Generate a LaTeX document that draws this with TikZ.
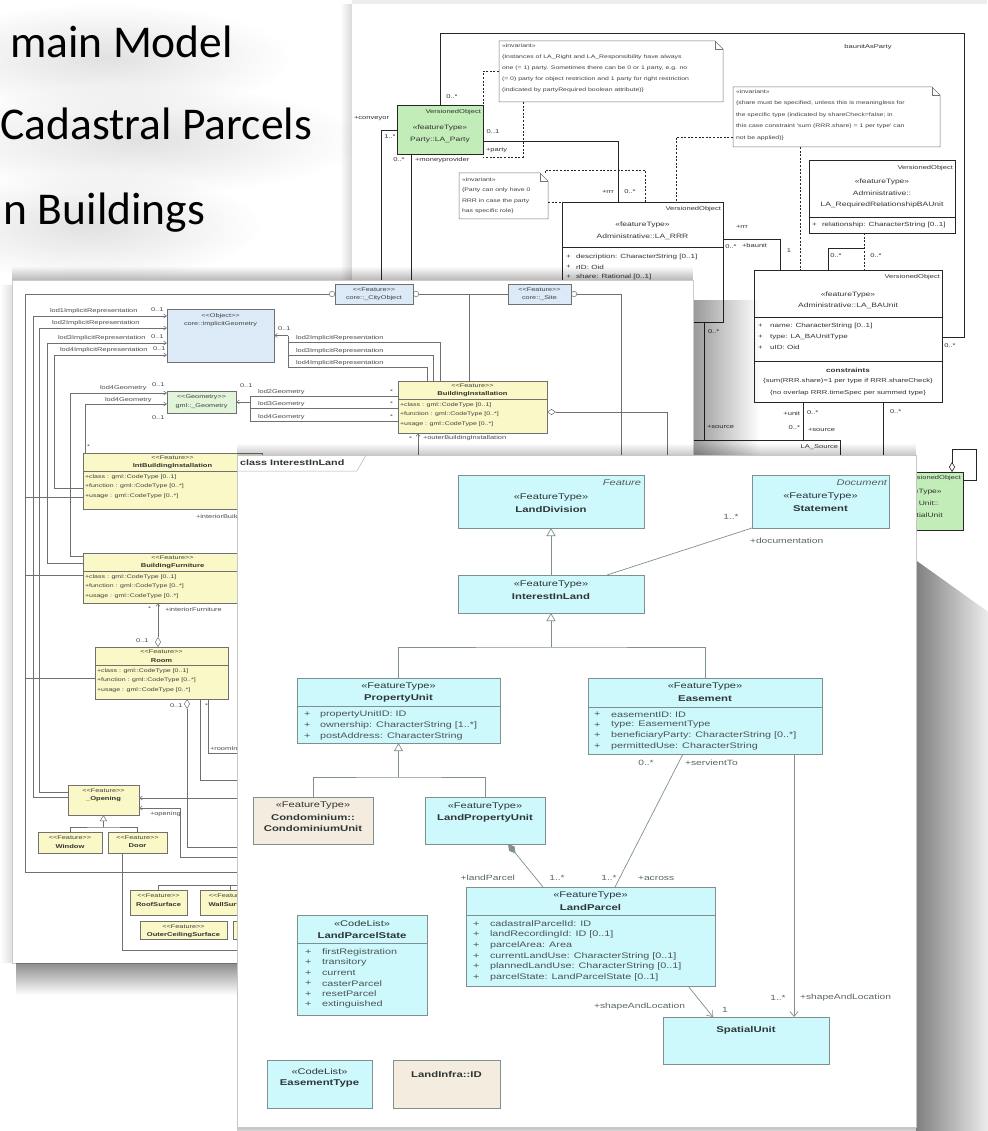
\documentclass[tikz,border=0pt]{standalone}
\usepackage{fontspec}
\usetikzlibrary{arrows.meta,fadings}
\newfontfamily\umlfont[FakeStretch=1.35]{Liberation Sans}
\newfontfamily\slidefont{Carlito}

\definecolor{cyanbox}{HTML}{CDF8FC}
\definecolor{beigebox}{HTML}{F4EDDF}
\definecolor{fborder}{HTML}{7E9090}
\definecolor{partygreen}{HTML}{C2ECB8}
\definecolor{cgblue}{HTML}{DCE9F7}
\definecolor{cggreen}{HTML}{E2F4D9}
\definecolor{cgyellow}{HTML}{FAF8C6}
\definecolor{cgline}{HTML}{707070}
\definecolor{ftext}{HTML}{2E3636}
\definecolor{flabel}{HTML}{5C6666}

\tikzfading[name=fadedown, top color=transparent!100, bottom color=transparent!0]
\tikzfading[name=shadowbelow, top color=transparent!0, bottom color=transparent!100]
\tikzfading[name=shadowright, left color=transparent!0, right color=transparent!100]
\tikzfading[name=shadowleft, left color=transparent!100, right color=transparent!0]
\tikzfading[name=softglow, inner color=transparent!0, outer color=transparent!100]

% every text gets its own numbered node name
\newcounter{lbl}
\newcommand{\uTxt}[3][]{\stepcounter{lbl}\node[#1] (lbl\thelbl) at (#2) {#3};}
\newcommand{\uBox}[5][fbox]{\node[#1,minimum width=#4pt,minimum height=#5pt] (#2) at (#3) {};}
\newcommand{\uAttr}[4][fat]{\uTxt[#1]{#2}{+}\uTxt[#1]{#3}{#4}}
% UML note with folded corner
\newcommand{\uNote}[4]{%
  \node[anchor=north west,minimum width=#3pt,minimum height=#4pt] (#1) at (#2) {};
  \draw[nline,fill=white] (#1.north west) -- ([xshift=-8pt]#1.north east)
    -- ([yshift=-8pt]#1.north east) -- (#1.south east) -- (#1.south west) -- cycle;
  \draw[nline] ([xshift=-8pt]#1.north east) |- ([yshift=-8pt]#1.north east);}
\newcommand{\lgl}{<\kern0pt<}
\newcommand{\rgl}{>\kern0pt>}
% CityGML feature class with the three standard attributes
\newcommand{\cgFeature}[5]{%
  \uBox[cbox,fill=cgyellow]{#1}{#2}{#3}{#4}
  \uTxt[ms]{[yshift=-5pt]#1.north}{\lgl Feature\rgl}
  \uTxt[mb]{[yshift=-13.5pt]#1.north}{#5}
  \draw[cl] ([yshift=-18pt]#1.north west) -- ([yshift=-18pt]#1.north east);
  \uTxt[ma]{[xshift=2pt,yshift=-24pt]#1.north west}{+class : gml::CodeType [0..1]}
  \uTxt[ma]{[xshift=2pt,yshift=-33.5pt]#1.north west}{+function : gml::CodeType [0..*]}
  \uTxt[ma]{[xshift=2pt,yshift=-43pt]#1.north west}{+usage : gml::CodeType [0..*]}}
\newcommand{\cgSmall}[5]{%
  \uBox[cbox,fill=cgyellow]{#1}{#2}{#3}{#4}
  \uTxt[ms]{[yshift=-5.5pt]#1.north}{\lgl Feature\rgl}
  \uTxt[mb]{[yshift=-14pt]#1.north}{#5}}

\begin{document}
\begin{tikzpicture}[x=1pt,y=-1pt,
  every node/.style={inner sep=0pt,outer sep=0pt},
  slidetxt/.style={font=\slidefont\fontsize{45.5}{55}\selectfont,text=black,anchor=base east},
  % front sheet
  fbox/.style={draw=fborder,fill=cyanbox,line width=0.7pt,anchor=north west},
  bbox/.style={fbox,fill=beigebox},
  fline/.style={draw=fborder,line width=0.7pt},
  gen/.style={fline,-{Triangle[length=8pt,width=9pt,fill=white]}},
  nav/.style={fline,-{Straight Barb[length=5pt,width=8pt]}},
  fst/.style={font=\umlfont\fontsize{8.2}{9}\selectfont,text=ftext},
  fnm/.style={font=\umlfont\bfseries\fontsize{8.4}{9}\selectfont,text=ftext},
  fital/.style={font=\umlfont\itshape\fontsize{8.2}{9}\selectfont,text=ftext!80,anchor=east},
  fat/.style={font=\umlfont\fontsize{8}{9}\selectfont,text=ftext!85,anchor=west},
  flb/.style={font=\umlfont\fontsize{7.6}{9}\selectfont,text=flabel},
  % rear sheet
  bline/.style={draw=black!85,line width=0.6pt},
  bdash/.style={bline,dash pattern=on 2pt off 1.6pt},
  nline/.style={draw=black!55,line width=0.5pt},
  lbox/.style={bline,fill=white,anchor=north west},
  gbox/.style={lbox,fill=partygreen},
  bst/.style={font=\umlfont\fontsize{6.3}{7}\selectfont,text=black!80},
  bat/.style={font=\umlfont\fontsize{6}{7}\selectfont,text=black!80,anchor=west},
  bnt/.style={font=\umlfont\fontsize{5.1}{6}\selectfont,text=black!75,anchor=west},
  blb/.style={font=\umlfont\fontsize{5.6}{6}\selectfont,text=black!80},
  % middle sheet
  cl/.style={draw=cgline,line width=0.5pt},
  cb/.style={cl,-{Straight Barb[length=3pt,width=4pt]}},
  cbox/.style={draw=cgline,line width=0.5pt,anchor=north west},
  ms/.style={font=\umlfont\fontsize{5.4}{6}\selectfont,text=black!75},
  mb/.style={font=\umlfont\bfseries\fontsize{5.6}{6}\selectfont,text=black!80},
  ma/.style={font=\umlfont\fontsize{5.2}{6}\selectfont,text=black!75,anchor=west},
  ml/.style={font=\umlfont\fontsize{5.5}{6}\selectfont,text=black!70,anchor=west}]

\useasboundingbox (0,0) rectangle (987,1131);
\fill[white] (0,0) rectangle (987,1131);

% ---------- slide bullet text ----------
\fill[gray!70,opacity=0.33,path fading=softglow] (-80,4) rectangle (290,112);
\fill[gray!70,opacity=0.33,path fading=softglow] (-80,86) rectangle (360,194);
\fill[gray!70,opacity=0.33,path fading=softglow] (-80,172) rectangle (260,280);
\node[slidetxt] (line1) at (233,58) {main Model};
\node[slidetxt] (line2) at (312,140) {Cadastral Parcels};
\node[slidetxt] (line3) at (205,225) {n Buildings};

% ---------- rear sheet: party, rights and basic administrative units ----------
\fill[gray!14] (352,0) rectangle (987,4);
\fill[black,opacity=0.15,path fading=shadowleft] (340,4) rectangle (352,683);
\fill[white] (352,4) rectangle (987,683);
\begin{scope}
\clip (352,4) rectangle (987,683);
\uBox[gbox]{party}{397,105}{86}{49}
\uTxt[blb,anchor=east]{481,112}{VersionedObject}
\uTxt[bst]{440,128}{«featureType»}
\uTxt[bst]{440,140}{Party::LA\_Party}

\uBox[lbox]{rrr}{562,202}{161}{120}
\draw[bline] (562,247) -- (723,247);
\uTxt[blb,anchor=east]{721,209}{VersionedObject}
\uTxt[bst]{642.5,225}{«featureType»}
\uTxt[bst]{642.5,237}{Administrative::LA\_RRR}
\uAttr[bat]{566,257}{576,257}{description: CharacterString [0..1]}
\uAttr[bat]{566,267}{576,267}{rID: Oid}
\uAttr[bat]{566,277}{576,277}{share: Rational [0..1]}

\uNote{nA}{499,41}{224}{61}
\uTxt[bnt]{502,46}{«invariant»}
\uTxt[bnt]{502,57}{\{Instances of LA\_Right and LA\_Responsibility have always}
\uTxt[bnt]{502,68}{one (= 1) party. Sometimes there can be 0 or 1 party, e.g. no}
\uTxt[bnt]{502,79}{(= 0) party for object restriction and 1 party for right restriction}
\uTxt[bnt]{502,90}{(indicated by partyRequired boolean attribute)\}}

\uNote{nB}{459,173}{89}{46}
\uTxt[bnt]{462,180}{«invariant»}
\uTxt[bnt]{462,190.5}{\{Party can only have 0}
\uTxt[bnt]{462,201}{RRR in case the party}
\uTxt[bnt]{462,211.5}{has specific role\}}

\uNote{nC}{733,87}{207}{60}
\uTxt[bnt]{736,92}{«invariant»}
\uTxt[bnt]{736,103.5}{\{share must be specified, unless this is meaningless for}
\uTxt[bnt]{736,115}{the specific type (indicated by shareCheck=false; in}
\uTxt[bnt]{736,126.5}{this case constraint 'sum (RRR.share) = 1 per type' can}
\uTxt[bnt]{736,138}{not be applied)\}}

\uBox[lbox]{reqrel}{809,160}{146}{73}
\draw[bline] (809,217) -- (955,217);
\uTxt[blb,anchor=east]{953,168}{VersionedObject}
\uTxt[bst]{882,182}{«featureType»}
\uTxt[bst]{882,193.5}{Administrative::}
\uTxt[bst]{882,205}{LA\_RequiredRelationshipBAUnit}
\uAttr[bat]{812,225}{822,225}{relationship: CharacterString [0..1]}

\uBox[lbox]{baunit}{754,270}{188}{132}
\draw[bline] (754,317) -- (942,317);
\draw[bline] (754,361) -- (942,361);
\uTxt[blb,anchor=east]{940,277}{VersionedObject}
\uTxt[bst]{848,295}{«featureType»}
\uTxt[bst]{848,306}{Administrative::LA\_BAUnit}
\uAttr[bat]{758,325.5}{770,325.5}{name: CharacterString [0..1]}
\uAttr[bat]{758,336.5}{770,336.5}{type: LA\_BAUnitType}
\uAttr[bat]{758,347.5}{770,347.5}{uID: Oid}
\uTxt[bst,font=\umlfont\bfseries\fontsize{6}{7}\selectfont]{848,370.5}{constraints}
\uTxt[bst,font=\umlfont\fontsize{5.7}{7}\selectfont]{848,381.5}{\{sum(RRR.share)=1 per type if RRR.shareCheck\}}
\uTxt[bst,font=\umlfont\fontsize{5.7}{7}\selectfont]{848,393}{\{no overlap RRR.timeSpec per summed type\}}

\uBox[lbox]{source}{660,440}{180}{60}
\uTxt[blb,anchor=east]{838,447}{LA\_Source}

\uBox[gbox]{spunit}{866,472}{97}{58}
\uTxt[blb,anchor=east]{961,478}{VersionedObject}
\uTxt[bst]{914.5,492}{«featureType»}
\uTxt[bst]{914.5,504}{Spatial Unit::}
\uTxt[bst]{914.5,516}{LA\_SpatialUnit}

% associations of the rear sheet
\draw[bline] (party.north) -- (440,33) -- (964,33) -- (964,337) -- (942,337);
\uTxt[blb]{452,97}{0..*}
\uTxt[blb]{868,47}{baunitAsParty}
\uTxt[blb]{950,346}{0..*}
\uTxt[blb,anchor=west]{354,118}{+conveyor}
\draw[bline] (381,300) -- (381,130) -- (397,130);
\uTxt[blb]{390,137}{1..*}
\draw[bline] (411,154) -- (411,300);
\uTxt[blb]{399,160}{0..*}
\uTxt[blb,anchor=west]{415,160}{+moneyprovider}
\draw[bline] (483,141) -- (618,141) -- (618,202);
\uTxt[blb]{493,132}{0..1}
\uTxt[blb,anchor=west]{486,150}{+party}
\draw[bdash] (nA.west) -- (483,71.5) -- (party.north east);
\draw[bdash] (523,102) -- (523,157) -- (483,157);
\draw[bdash] (545,173) -- (545,170) -- (645,170) -- (645,202);
\draw[bdash] (548,202) -- (rrr.north west);
\uTxt[blb]{608,192}{+rrr}
\uTxt[blb]{630,192}{0..*}
\draw[bline] (723,239) -- (780,239) -- (780,270);
\uTxt[blb]{742,227}{+rrr}
\uTxt[blb]{731,247}{0..*}
\uTxt[blb,anchor=west]{742,245}{+baunit}
\uTxt[blb]{789,251}{1}
\draw[bdash] (733,137) -- (676,137) -- (676,202);
\draw[bdash] (800,147) -- (800,270);
\draw[bline] (828,270) -- (828,248) -- (864,248);
\draw[bdash] (reqrel.south -| 864,0) -- (864,270);
\uTxt[blb]{836,256}{0..*}
\uTxt[blb]{876,256}{0..*}
\draw[bline] (704,322) -- (704,440);
\uTxt[blb,anchor=west]{708,332}{0..*}
\uTxt[blb,anchor=west]{707,427}{+source}
\draw[bline] (803,402) -- (803,440);
\uTxt[blb,anchor=east]{800,413}{+unit}
\uTxt[blb,anchor=west]{807,413}{0..*}
\uTxt[blb,anchor=east]{800,428}{0..*}
\uTxt[blb,anchor=west]{808,430}{+source}
\draw[bline] (883,402) -- (883,470);
\uTxt[blb,anchor=west]{890,412}{0..*}
\draw[bline,{Diamond[open,length=10pt,width=6pt]}-] (952,472) -- (952,449) -- (976,449) -- (976,480) -- (963,480);
\end{scope}

% ---------- middle sheet: building model ----------
\fill[black,opacity=0.12,path fading=shadowleft] (0,285) rectangle (12,963);
\fill[black,opacity=0.28,path fading=fadedown] (12,266) rectangle (693,280);
\fill[black,opacity=0.4,path fading=shadowright] (693,300) rectangle (760,456);
\fill[white] (12,280) rectangle (693,963);
\draw[gray!40,line width=0.5pt] (12,280) rectangle (693,963);
\fill[black,opacity=0.45,path fading=shadowbelow] (16,963) rectangle (237,995);
\begin{scope}
\clip (12,280) rectangle (693,963);
\uBox[cbox,fill=cgblue]{cityobj}{335,284}{78}{20}
\uTxt[ms]{374,290}{\lgl Feature\rgl}
\uTxt[ms]{374,298.5}{core::\_CityObject}
\uBox[cbox,fill=cgblue]{site}{508,284}{63}{20}
\uTxt[ms]{539.5,290}{\lgl Feature\rgl}
\uTxt[ms]{539.5,298.5}{core::\_Site}
\uBox[cbox,fill=cgblue]{implicit}{167,309}{107}{53}
\uTxt[ms]{220.5,316}{\lgl Object\rgl}
\uTxt[ms]{220.5,324}{core::ImplicitGeometry}
\uBox[cbox,fill=cggreen]{geom}{167,391}{69}{22}
\uTxt[ms]{201.5,397}{\lgl Geometry\rgl}
\uTxt[ms]{201.5,406}{gml::\_Geometry}
\cgFeature{binst}{398,381}{149}{52}{BuildingInstallation}
\cgFeature{ibi}{83,453}{179}{56}{IntBuildingInstallation}
\cgFeature{bfurn}{83,553}{179}{50}{BuildingFurniture}
\cgFeature{room}{95,647}{133}{52}{Room}
\cgSmall{opening}{68,785}{71}{30}{\_Opening}
\cgSmall{window}{38,832}{64}{21}{Window}
\cgSmall{door}{108,832}{59}{21}{Door}
\cgSmall{roof}{130,890}{57}{25}{RoofSurface}
\cgSmall{wall}{200,890}{60}{25}{WallSurface}
\cgSmall{ceiling}{140,921}{87}{18}{OuterCeilingSurface}
\uBox[cbox,fill=cgyellow]{ground}{233,921}{60}{18}

% frame and generalisation to the city object and site
\draw[cl,-{Circle[open,length=6pt]}] (25,294) -- (cityobj.west);
\draw[cl,{Circle[open,length=6pt]}-] (cityobj.east) -- (site.west);
\draw[cl,{Circle[open,length=6pt]}-] (site.east) -- (621,294) -- (621,470);
\draw[cl] (25,294) -- (25,872) -- (245,872);
\draw[cl] (469,294) -- (469,381);
\draw[cl] (25,497) -- (83,497);
\draw[cl] (25,575) -- (83,575);
\draw[cl] (25,678) -- (95,678);

% implicit representations
\draw[cb] (68,797) -- (33,797) -- (33,316) -- (167,316);
\draw[cb] (68,792) -- (39,792) -- (39,328) -- (167,328);
\draw[cb] (83,563) -- (47,563) -- (47,343) -- (167,343);
\draw[cb] (83,488) -- (54,488) -- (54,355) -- (167,355);
\uTxt[ml]{50,311.5}{lod1ImplicitRepresentation}
\uTxt[ml]{52,323.5}{lod2ImplicitRepresentation}
\uTxt[ml]{58,338.5}{lod3ImplicitRepresentation}
\uTxt[ml]{60,350.5}{lod4ImplicitRepresentation}
\uTxt[ml]{151,309.5}{0..1}
\uTxt[ml]{151,336.5}{0..1}
\uTxt[ml]{153,348.5}{0..1}
\draw[cl,{Straight Barb[length=3pt,width=4pt]}-] (implicit.east) -- (288,335.5);
\draw[cl] (288,335.5) -- (288,367);
\draw[cl] (288,342) -- (440,342) -- (440,381);
\draw[cl] (288,355) -- (433,355) -- (433,381);
\draw[cl] (288,367) -- (427,367) -- (427,381);
\uTxt[ml]{278,329}{0..1}
\uTxt[ml]{296,338}{lod2ImplicitRepresentation}
\uTxt[ml]{296,351}{lod3ImplicitRepresentation}
\uTxt[ml]{296,363.5}{lod4ImplicitRepresentation}

% geometries
\draw[cb] (83,556) -- (70,556) -- (70,393) -- (167,393);
\draw[cb] (85,453) -- (85,404) -- (167,404);
\uTxt[ml]{100,388.5}{lod4Geometry}
\uTxt[ml]{105,400}{lod4Geometry}
\uTxt[ml]{152,385}{0..1}
\uTxt[ml]{152,418}{0..1}
\draw[cl,{Straight Barb[length=3pt,width=4pt]}-] (geom.east) -- (250,402);
\draw[cl] (250,396) -- (250,421);
\draw[cl] (250,396) -- (398,396);
\draw[cl] (250,408) -- (398,408);
\draw[cl] (250,421) -- (398,421);
\uTxt[ml]{240,386}{0..1}
\uTxt[ml]{258,392}{lod2Geometry}
\uTxt[ml]{258,404}{lod3Geometry}
\uTxt[ml]{258,417}{lod4Geometry}
\uTxt[ml]{390,391.5}{*}
\uTxt[ml]{390,403.5}{*}
\uTxt[ml]{390,416.5}{*}

% installations, furniture, rooms, openings
\draw[cl,-{Straight Barb[length=3pt,width=4pt]}] (418,470) -- (418,433);
\uTxt[ml]{409,438.5}{*}
\uTxt[ml]{423,438.5}{+outerBuildingInstallation}
\draw[cl,{Diamond[open,length=9pt,width=6pt]}-] (547,412) -- (667,412) -- (667,470);
\uTxt[ml]{87,447}{*}
\uTxt[ml]{196,517}{+interiorBuildingInstallation}
\uTxt[ml]{148,609}{*}
\uTxt[ml]{165,610}{+interiorFurniture}
\draw[cl,{Diamond[open,length=10pt,width=6pt]}-{Straight Barb[length=3pt,width=4pt]}] (158,647) -- (158,603);
\uTxt[ml]{136,641}{0..1}
\draw[cl,{Diamond[open,length=10pt,width=6pt]}-] (187,699) -- (187,847) -- (245,847);
\uTxt[ml]{170,706}{0..1}
\uTxt[ml]{205,706}{*}
\draw[cl] (200,699) -- (200,780) -- (245,780);
\draw[cl] (208,699) -- (208,753) -- (245,753);
\uTxt[ml]{210,749}{+roomInstallation}
\draw[cl,{Straight Barb[length=3pt,width=4pt]}-] (139,798) -- (245,798);
\draw[cl,{Straight Barb[length=3pt,width=4pt]}-] (139,808) -- (180,808) -- (180,857) -- (245,857);
\uTxt[ml]{150,814}{+opening}
\coordinate (gj3) at (103.5,827);
\draw[cl] (window.north) |- (gj3) -| (door.north);
\draw[cl,-{Triangle[length=6pt,width=7pt,fill=white]}] (gj3) -- (opening.south);
\draw[cl] (122,853) -- (122,950) -- (245,950);
\draw[cl] (roof.north) -- (158.5,885) -- (245,885);
\draw[cl] (wall.north) -- (230,885);
\end{scope}

% ---------- front sheet: class InterestInLand ----------
\fill[black,opacity=0.22,path fading=fadedown] (237,443) rectangle (916,455);
\fill[black,opacity=0.5,path fading=shadowright] (916,560) -- (916,1131) -- (1000,1131) -- (1000,620) -- cycle;
\fill[black,opacity=0.25,path fading=shadowbelow] (237,1127) rectangle (916,1137);
\fill[white] (237,455) rectangle (916,1127);
\draw[gray!45,line width=0.5pt] (237,455) rectangle (916,1127);
\node[font=\umlfont\bfseries\fontsize{8}{9}\selectfont,text=ftext,anchor=west] (frame) at (240,462.5) {class InterestInLand};
\draw[gray!60,line width=0.5pt] (237,471) -- (357,471) -- (366,455);

\uBox{landdiv}{458,475}{186}{53}
\uTxt[fital]{641,482.5}{Feature}
\uTxt[fst]{551,497.5}{«FeatureType»}
\uTxt[fnm]{551,509}{LandDivision}

\uBox{interest}{458,575}{186}{38}
\uTxt[fst]{551,585}{«FeatureType»}
\uTxt[fnm]{551,596.5}{InterestInLand}

\uBox{stmt}{752,475}{137}{53}
\uTxt[fital]{887,482.5}{Document}
\uTxt[fst]{820.5,497}{«FeatureType»}
\uTxt[fnm]{820.5,508.5}{Statement}

\uBox{prop}{297,678}{203}{65}
\draw[fline] ([yshift=-28pt]prop.north west) -- ([yshift=-28pt]prop.north east);
\uTxt[fst]{398.5,687}{«FeatureType»}
\uTxt[fnm]{398.5,698.5}{PropertyUnit}
\uAttr{304,714}{320,714}{propertyUnitID: ID}
\uAttr{304,725}{320,725}{ownership: CharacterString [1..*]}
\uAttr{304,736}{320,736}{postAddress: CharacterString}

\uBox{ease}{588,678}{234}{76}
\draw[fline] ([yshift=-29pt]ease.north west) -- ([yshift=-29pt]ease.north east);
\uTxt[fst]{705,687}{«FeatureType»}
\uTxt[fnm]{705,698.5}{Easement}
\uAttr{594,714.5}{611,714.5}{easementID: ID}
\uAttr{594,725}{611,725}{type: EasementType}
\uAttr{594,735.5}{611,735.5}{beneficiaryParty: CharacterString [0..*]}
\uAttr{594,746}{611,746}{permittedUse: CharacterString}

\uBox[bbox]{condo}{253,797}{120}{47}
\uTxt[fst]{313,805.5}{«FeatureType»}
\uTxt[fnm]{313,817}{Condominium::}
\uTxt[fnm]{313,828.5}{CondominiumUnit}

\uBox{lpu}{425,797}{120}{47}
\uTxt[fst]{485,807}{«FeatureType»}
\uTxt[fnm]{485,818.5}{LandPropertyUnit}

\uBox{lparcel}{466,887}{249}{99}
\draw[fline] ([yshift=-28pt]lparcel.north west) -- ([yshift=-28pt]lparcel.north east);
\uTxt[fst]{590.5,896}{«FeatureType»}
\uTxt[fnm]{590.5,907.5}{LandParcel}
\uAttr{473,924}{490,924}{cadastralParcelId: ID}
\uAttr{473,934.5}{490,934.5}{landRecordingId: ID [0..1]}
\uAttr{473,945.5}{490,945.5}{parcelArea: Area}
\uAttr{473,956}{490,956}{currentLandUse: CharacterString [0..1]}
\uAttr{473,966.5}{490,966.5}{plannedLandUse: CharacterString [0..1]}
\uAttr{473,977}{490,977}{parcelState: LandParcelState [0..1]}

\uBox{spatial}{663,1017}{166}{47}
\uTxt[fnm]{746,1030}{SpatialUnit}

\uBox{lps}{297,915}{130}{100}
\draw[fline] ([yshift=-28pt]lps.north west) -- ([yshift=-28pt]lps.north east);
\uTxt[fst]{362,923.5}{«CodeList»}
\uTxt[fnm]{362,935}{LandParcelState}
\uAttr{305,952}{322,952}{firstRegistration}
\uAttr{305,962.5}{322,962.5}{transitory}
\uAttr{305,973}{322,973}{current}
\uAttr{305,983.5}{322,983.5}{casterParcel}
\uAttr{305,994}{322,994}{resetParcel}
\uAttr{305,1004.5}{322,1004.5}{extinguished}

\uBox{etype}{267,1060}{105}{48}
\uTxt[fst]{319.5,1072}{«CodeList»}
\uTxt[fnm]{319.5,1083.5}{EasementType}

\uBox[bbox]{lid}{393,1060}{107}{48}
\uTxt[fnm]{446.5,1074}{LandInfra::ID}

% relations of the front sheet
\draw[gen] (interest.north) -- (landdiv.south);
\draw[fline] ([xshift=149pt]interest.north west) -- (stmt.south west);
\uTxt[flb]{731,517}{1..*}
\uTxt[flb,anchor=west]{750,541}{+documentation}
\coordinate (gj1) at (551,647);
\draw[fline] (prop.north) |- (gj1) -| (ease.north);
\draw[gen] (gj1) -- (interest.south);
\coordinate (gj2) at (398.5,777);
\draw[fline] (condo.north) |- (gj2) -| (lpu.north);
\draw[gen] (gj2) -- (prop.south);
\draw[fline,{Diamond[length=12pt,width=7pt]}-] ([xshift=83pt]lpu.south west) -- ([xshift=77pt]lparcel.north west);
\uTxt[flb,anchor=east]{515,878}{+landParcel}
\uTxt[flb]{557,878}{1..*}
\draw[fline] ([xshift=95pt]ease.south west) -- ([xshift=149pt]lparcel.north west);
\uTxt[flb]{646,763}{0..*}
\uTxt[flb,anchor=west]{685,763}{+servientTo}
\uTxt[flb]{609,878}{1..*}
\uTxt[flb,anchor=west]{638,878}{+across}
\draw[nav] ([xshift=222pt]lparcel.south west) -- ([xshift=50pt]spatial.north west);
\uTxt[flb,anchor=east]{685,1007}{+shapeAndLocation}
\uTxt[flb]{725,1010}{1}
\draw[nav] ([xshift=206pt]ease.south west) -- ([xshift=131pt]spatial.north west);
\uTxt[flb]{778,998}{1..*}
\uTxt[flb,anchor=west]{800,998}{+shapeAndLocation}
\end{tikzpicture}
\end{document}
